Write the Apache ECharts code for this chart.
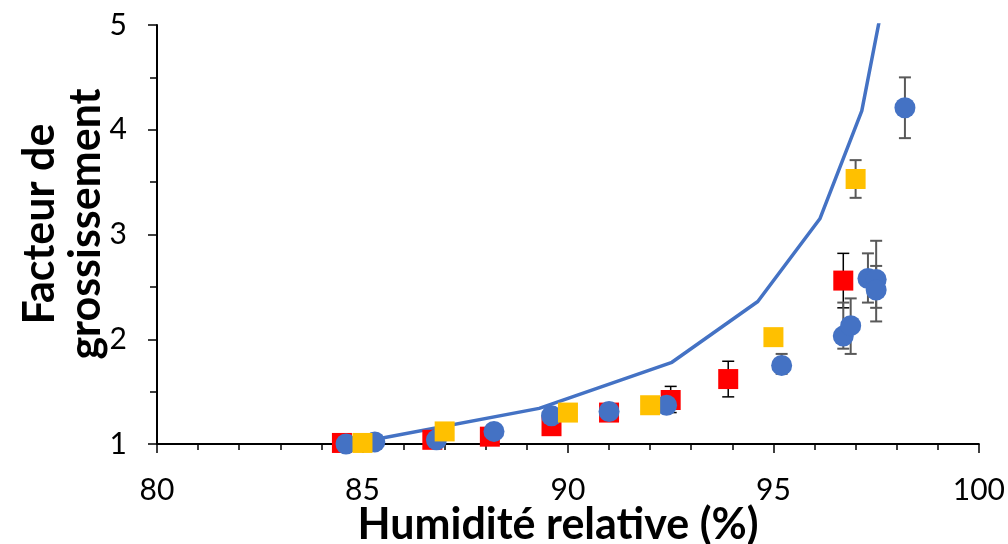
<!DOCTYPE html>
<html>
<head>
<meta charset="utf-8">
<script src="https://cdn.jsdelivr.net/npm/echarts@6/dist/echarts.min.js"></script>
<style>
  html, body { margin: 0; padding: 0; background: #fff; }
  #chart { width: 1008px; height: 544px; }
</style>
</head>
<body>
<div id="chart"></div>
<script>
// valeurs
const redHum = [84.5, 86.7, 88.1, 89.6, 91.0, 92.5, 93.9, 96.7];
const redFactor = [1.01, 1.04, 1.07, 1.17, 1.30, 1.42, 1.62, 2.56];
const redErrLo = [null, null, null, null, null, 1.30, 1.45, 2.30];
const redErrHi = [null, null, null, null, null, 1.55, 1.79, 2.82];

const yellowHum = [85.0, 87.0, 90.0, 92.0, 95.0, 97.0];
const yellowFactor = [1.01, 1.12, 1.30, 1.37, 2.02, 3.53];
const yellowErrLo = [null, null, null, null, null, 3.35];
const yellowErrHi = [null, null, null, null, null, 3.71];

const blueHum = [84.6, 85.3, 86.8, 88.2, 89.6, 91.0, 92.4, 95.2, 96.7, 96.88, 97.3, 97.5, 97.5, 98.2];
const blueFactor = [1.0, 1.02, 1.04, 1.12, 1.27, 1.31, 1.37, 1.75, 2.03, 2.13, 2.58, 2.57, 2.47, 4.21];
const blueErrLo = [null, null, null, null, null, null, 1.30, 1.67, 1.91, 1.86, 2.35, 2.17, 2.30, 3.92];
const blueErrHi = [null, null, null, null, null, null, 1.44, 1.86, 2.35, 2.39, 2.82, 2.94, 2.70, 4.50];

const modelHum = [85.26, 89.3, 92.53, 94.62, 96.13, 97.15, 98.2];
const modelFactor = [1.04, 1.34, 1.78, 2.36, 3.15, 4.18, 6.3];

const xTicks = { min: 80, max: 100, interval: 5 };
const yTicks = { min: 1, max: 5, interval: 1 };

const xTitle = 'Humidité relative (%)';
const yTitle = 'Facteur de\ngrossissement';

const FONT = 'Lato, "Open Sans", sans-serif';

function pts(xs, ys) {
  return xs.map((x, i) => [x, ys[i]]);
}
function errPts(xs, lo, hi) {
  const out = [];
  xs.forEach((x, i) => {
    if (lo[i] != null) out.push([x, lo[i], hi[i]]);
  });
  return out;
}
function errSeries(data, color, width) {
  return {
    type: 'custom',
    data: data,
    z: 3,
    encode: { x: 0, y: [1, 2] },
    renderItem: function (params, api) {
      const x = api.value(0);
      const lo = api.coord([x, api.value(1)]);
      const hi = api.coord([x, api.value(2)]);
      const cap = 6;
      const style = { stroke: color, lineWidth: width };
      return {
        type: 'group',
        children: [
          { type: 'line', shape: { x1: lo[0], y1: lo[1], x2: hi[0], y2: hi[1] }, style: style },
          { type: 'line', shape: { x1: lo[0] - cap, y1: lo[1], x2: lo[0] + cap, y2: lo[1] }, style: style },
          { type: 'line', shape: { x1: hi[0] - cap, y1: hi[1], x2: hi[0] + cap, y2: hi[1] }, style: style }
        ]
      };
    }
  };
}

const chart = echarts.init(document.getElementById('chart'));
const option = {
  animation: false,
  grid: { left: 157, right: 29, top: 25, bottom: 100 },
  graphic: [
    {
      type: 'text',
      x: 558, y: 525,
      style: {
        text: xTitle,
        fontFamily: FONT, fontSize: 43, fontWeight: 'bold', fill: '#000',
        textAlign: 'center', textVerticalAlign: 'middle'
      }
    },
    {
      type: 'text',
      x: 63, y: 224,
      rotation: Math.PI / 2,
      style: {
        text: yTitle,
        fontFamily: FONT, fontSize: 43, fontWeight: 'bold', fill: '#000',
        lineHeight: 46,
        textAlign: 'center', textVerticalAlign: 'middle'
      }
    }
  ],
  xAxis: {
    type: 'value',
    min: xTicks.min, max: xTicks.max, interval: xTicks.interval,
    axisLine: { lineStyle: { color: '#000', width: 2 } },
    axisTick: { length: 9, lineStyle: { color: '#000', width: 1.5 } },
    minorTick: { show: true, splitNumber: 5, length: 6, lineStyle: { color: '#000', width: 1.5 } },
    splitLine: { show: false },
    axisLabel: { fontFamily: FONT, fontSize: 30, color: '#000', margin: 31 }
  },
  yAxis: {
    type: 'value',
    min: yTicks.min, max: yTicks.max, interval: yTicks.interval,
    axisLine: { show: true, lineStyle: { color: '#000', width: 2 } },
    axisTick: { show: true, length: 9, lineStyle: { color: '#000', width: 1.5 } },
    minorTick: { show: true, splitNumber: 2, length: 7, lineStyle: { color: '#000', width: 1.5 } },
    splitLine: { show: false },
    axisLabel: { fontFamily: FONT, fontSize: 30, color: '#000', margin: 30 }
  },
  series: [
    {
      type: 'line',
      data: pts(modelHum, modelFactor),
      showSymbol: false,
      clip: true,
      z: 1,
      lineStyle: { color: '#4472C4', width: 3.5 }
    },
    errSeries(errPts(redHum, redErrLo, redErrHi), '#000', 1.5),
    {
      type: 'scatter',
      data: pts(redHum, redFactor),
      symbol: 'rect',
      symbolSize: 20,
      z: 4,
      itemStyle: { color: '#FF0000', opacity: 1 }
    },
    errSeries(errPts(blueHum, blueErrLo, blueErrHi), '#595959', 2),
    {
      type: 'scatter',
      data: pts(blueHum, blueFactor),
      symbol: 'circle',
      symbolSize: 21,
      z: 5,
      itemStyle: { color: '#4472C4', opacity: 1 }
    },
    errSeries(errPts(yellowHum, yellowErrLo, yellowErrHi), '#595959', 2),
    {
      type: 'scatter',
      data: pts(yellowHum, yellowFactor),
      symbol: 'rect',
      symbolSize: 20,
      z: 6,
      itemStyle: { color: '#FFC000', opacity: 1 }
    }
  ]
};
chart.setOption(option);
window.onresize = function () {
  chart.resize();
};
</script>
</body>
</html>
